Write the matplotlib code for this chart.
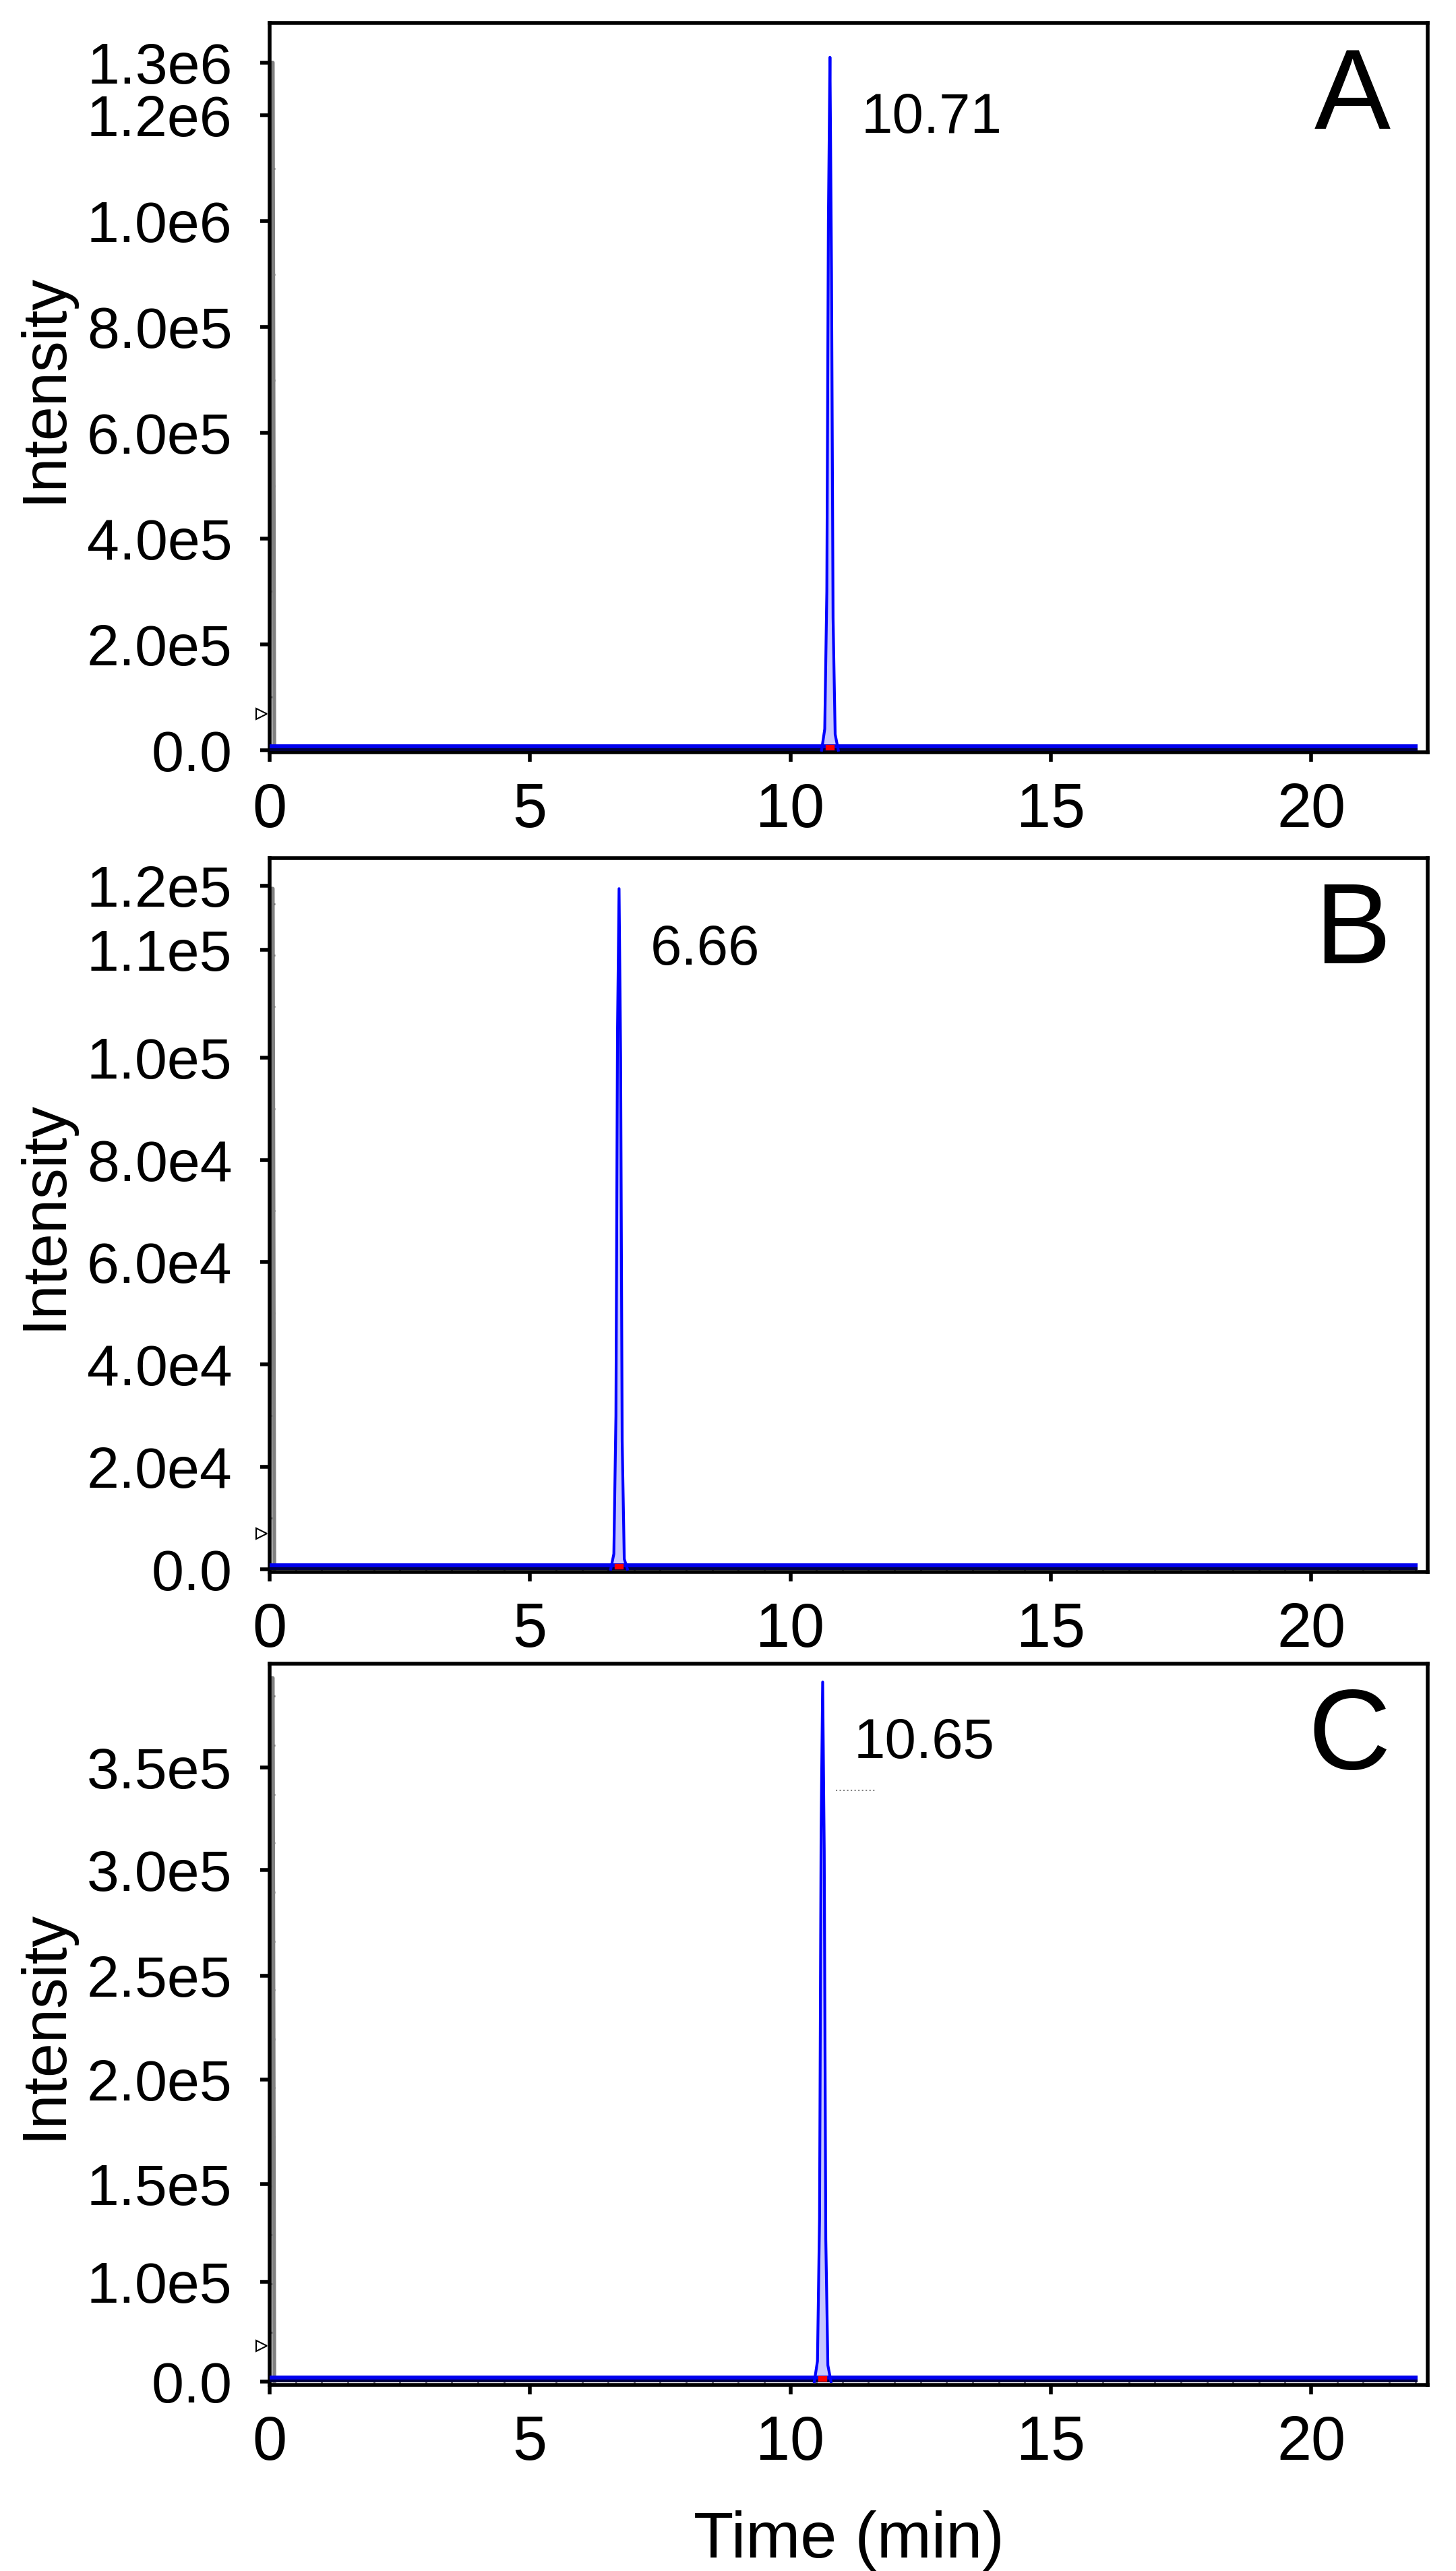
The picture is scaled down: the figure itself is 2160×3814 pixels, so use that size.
import matplotlib.pyplot as plt
from matplotlib.ticker import MultipleLocator

plt.rcParams['font.family'] = ['Liberation Sans', 'DejaVu Sans']

# ---- data ----
# main peak of each chromatogram (time in min, intensity in counts)
peak_a_t = [10.60, 10.66, 10.70, 10.73, 10.76, 10.79, 10.82, 10.86, 10.92]
peak_a_i = [0, 4.0e4, 3.0e5, 1.0e6, 1.31e6, 9.0e5, 2.5e5, 3.0e4, 0]
peak_b_t = [6.55, 6.61, 6.65, 6.68, 6.71, 6.74, 6.77, 6.81, 6.87]
peak_b_i = [0, 3.0e3, 3.0e4, 1.05e5, 1.33e5, 1.0e5, 2.5e4, 2.0e3, 0]
peak_c_t = [10.46, 10.52, 10.56, 10.59, 10.62, 10.65, 10.68, 10.72, 10.78]
peak_c_i = [0, 1.0e4, 8.0e4, 2.7e5, 3.43e5, 2.6e5, 7.0e4, 8.0e3, 0]

# solvent-front spike at the very start of each run
front_t = [0.0, 0.03, 0.06, 0.09]
front_a = [0, 1.3e6, 1.3e6, 0]
front_b = [0, 1.33e5, 1.33e5, 0]
front_c = [0, 3.45e5, 3.45e5, 0]

run_end = 22.05
peak_labels = ["10.71", "6.66", "10.65"]
panel_letters = ["A", "B", "C"]

# y ticks as printed by the instrument software
yticks_a = [0, 2e5, 4e5, 6e5, 8e5, 1.0e6, 1.2e6, 1.3e6]
ylabels_a = ["0.0", "2.0e5", "4.0e5", "6.0e5", "8.0e5", "1.0e6", "1.2e6", "1.3e6"]
yticks_b = [0, 2e4, 4e4, 6e4, 8e4, 1.0e5, 1.21e5, 1.335e5]
ylabels_b = ["0.0", "2.0e4", "4.0e4", "6.0e4", "8.0e4", "1.0e5", "1.1e5", "1.2e5"]
yticks_c = [0, 4.9e4, 9.7e4, 1.48e5, 1.99e5, 2.51e5, 3.01e5]
ylabels_c = ["0.0", "1.0e5", "1.5e5", "2.0e5", "2.5e5", "3.0e5", "3.5e5"]

ylims = [(-4e3, 1.375e6), (-530, 1.39e5), (-1.6e3, 3.52e5)]
xticks = [0, 5, 10, 15, 20]

fig = plt.figure(figsize=(21.6, 38.14), dpi=100)
boxes = [[0.1852, 0.7074, 0.7954, 0.2837],
         [0.1852, 0.3886, 0.7954, 0.2777],
         [0.1852, 0.0724, 0.7954, 0.2805]]

peaks = [(peak_a_t, peak_a_i), (peak_b_t, peak_b_i), (peak_c_t, peak_c_i)]
fronts = [front_a, front_b, front_c]
ticks = [(yticks_a, ylabels_a), (yticks_b, ylabels_b), (yticks_c, ylabels_c)]
label_y = [0.849, 0.85, 0.869]

for i, box in enumerate(boxes):
    ax = fig.add_axes(box)
    ymin, ymax = ylims[i]
    ax.set_xlim(0, 22.24)
    ax.set_ylim(ymin, ymax)

    # solvent front along the left edge
    ax.plot(front_t, fronts[i], color="grey", lw=4, zorder=2)

    # baseline band
    base = ymax * 0.004
    ax.plot([0, run_end], [base, base], color="#0000ee", lw=7, solid_capstyle="butt", zorder=3)
    ax.plot([0, run_end], [base * 0.3, base * 0.3], color="#000040", lw=3, solid_capstyle="butt", zorder=3)

    # peak
    t, inten = peaks[i]
    ax.fill_between(t, inten, color="#c8c8ff", zorder=2)
    ax.plot(t, inten, color="#0000ff", lw=3, zorder=4)
    ax.plot([t[3], t[5]], [base, base], color="red", lw=6, zorder=5)

    ax.text(t[4] + 0.6, ymax * label_y[i], peak_labels[i], fontsize=60, ha="left", va="baseline")
    ax.text(0.968, 0.968, panel_letters[i], transform=ax.transAxes, fontsize=122,
            ha="right", va="top")

    # open triangle marker the software puts on the left edge
    ax.plot([-0.15], [ymax * 0.05], marker=">", ms=12, mfc="white", mec="black",
            mew=1.5, clip_on=False, zorder=6)

    ax.set_xticks(xticks)
    ax.set_yticks(ticks[i][0])
    ax.set_yticklabels(ticks[i][1])
    ax.xaxis.set_minor_locator(MultipleLocator(0.5))
    ax.tick_params(axis="both", which="major", direction="out", length=10, width=4,
                   labelsize=62, pad=30)
    ax.tick_params(axis="x", which="major", labelsize=66, pad=22)
    ax.tick_params(axis="both", which="minor", direction="in", length=6, width=2,
                   color="dimgrey")
    ax.yaxis.set_minor_locator(MultipleLocator((ticks[i][0][2] - ticks[i][0][1]) / 2))
    for sp in ax.spines.values():
        sp.set_linewidth(4)

    ax.set_ylabel("Intensity", fontsize=66, labelpad=14)

    if i == 2:
        # short dotted cursor mark next to the label
        ax.plot([10.87, 11.65], [2.9e5, 2.9e5], color="grey", lw=1.5, ls=":")
        ax.set_xlabel("Time (min)", fontsize=70, labelpad=40)

fig.savefig("out.png", dpi=100)
